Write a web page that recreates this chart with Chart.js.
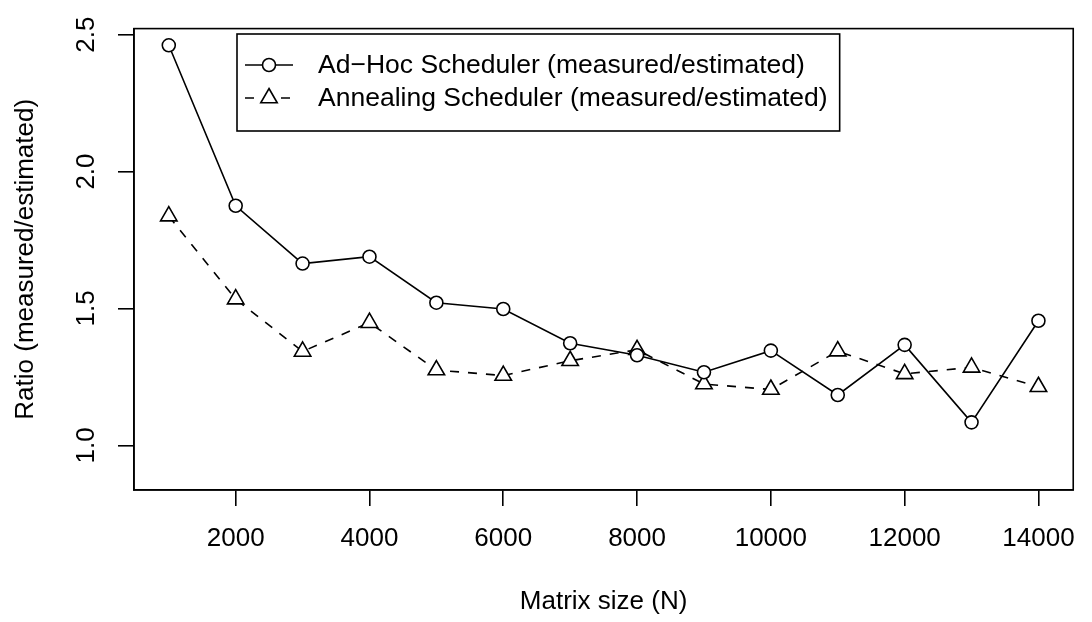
<!DOCTYPE html>
<html lang="en">

<head>
  <meta charset="utf-8">
  <title>Scheduler ratio</title>
  <script src="https://cdn.jsdelivr.net/npm/chart.js@4.4.1/dist/chart.umd.min.js"></script>
  <style>
    html, body { margin: 0; padding: 0; background: #fff; }
    canvas { display: block; }
  </style>
</head>

<body>
  <canvas id="chart-ratio" width="1092" height="622"></canvas>

  <script>
    // data
    var matrixSizes = [1000, 2000, 3000, 4000, 5000, 6000, 7000, 8000, 9000, 10000, 11000, 12000, 13000, 14000];
    var adHocRatio = [2.461, 1.875, 1.664, 1.689, 1.521, 1.498, 1.373, 1.329, 1.267, 1.346, 1.184, 1.367, 1.084, 1.455];
    var annealingRatio = [1.837, 1.534, 1.343, 1.448, 1.275, 1.255, 1.309, 1.349, 1.224, 1.204, 1.344, 1.261, 1.285, 1.214];
    var xTicks = [2000, 4000, 6000, 8000, 10000, 12000, 14000];
    var yTicks = [1.0, 1.5, 2.0, 2.5];
    var seriesNames = ["Ad\u2212Hoc Scheduler (measured/estimated)", "Annealing Scheduler (measured/estimated)"];

    var FONT = "'Liberation Sans', Arial, Helvetica, sans-serif";
    var LW = 1.6;

    function toPoints(xs, ys) {
      return xs.map(function (x, i) { return { x: x, y: ys[i] }; });
    }

    // box round the plot + R style legend
    var boxLegend = {
      id: 'boxLegend',
      afterDraw: function (chart) {
        var ctx = chart.ctx;
        var a = chart.chartArea;
        ctx.save();
        ctx.strokeStyle = '#000';
        ctx.lineWidth = LW;
        ctx.strokeRect(a.left, a.top, a.right - a.left, a.bottom - a.top);

        ctx.font = '26.5px ' + FONT;
        var w = Math.max(ctx.measureText(seriesNames[0]).width, ctx.measureText(seriesNames[1]).width);
        var lx = 237, ly = 34, textX = 318;
        var bw = textX + w + 12 - lx;
        ctx.fillStyle = '#fff';
        ctx.fillRect(lx, ly, bw, 97);
        ctx.strokeRect(lx, ly, bw, 97);

        ctx.textBaseline = 'middle';
        ctx.textAlign = 'left';
        var rows = [65, 98];
        chart.data.datasets.forEach(function (ds, i) {
          var y = rows[i];
          ctx.beginPath();
          ctx.setLineDash(ds.borderDash || []);
          ctx.moveTo(245, y);
          ctx.lineTo(293, y);
          ctx.stroke();
          ctx.setLineDash([]);
          ctx.fillStyle = '#fff';
          Chart.helpers.drawPoint(ctx, {
            pointStyle: ds.pointStyle,
            radius: ds.pointRadius,
            borderWidth: LW
          }, 269, y);
          ctx.fillStyle = '#000';
          ctx.fillText(ds.label, textX, y + 1);
        });
        ctx.restore();
      }
    };

    new Chart(document.getElementById('chart-ratio'), {
      type: 'line',
      data: {
        datasets: [{
          label: seriesNames[0],
          data: toPoints(matrixSizes, adHocRatio),
          borderColor: '#000',
          backgroundColor: '#fff',
          borderWidth: LW,
          pointStyle: 'circle',
          pointRadius: 6.5,
          pointBorderWidth: LW,
          pointBackgroundColor: '#fff',
          pointBorderColor: '#000',
          tension: 0
        }, {
          label: seriesNames[1],
          data: toPoints(matrixSizes, annealingRatio),
          borderColor: '#000',
          backgroundColor: '#fff',
          borderWidth: LW,
          borderDash: [9, 9],
          pointStyle: 'triangle',
          pointRadius: 9.5,
          pointBorderWidth: LW,
          pointBackgroundColor: '#fff',
          pointBorderColor: '#000',
          tension: 0
        }]
      },
      options: {
        responsive: false,
        animation: false,
        devicePixelRatio: 1,
        layout: { padding: { top: 17, right: 4, left: 0, bottom: 0 } },
        plugins: {
          legend: { display: false },
          tooltip: { enabled: false }
        },
        scales: {
          x: {
            type: 'linear',
            min: 480,
            max: 14520,
            afterBuildTicks: function (scale) {
              scale.ticks = xTicks.map(function (v) { return { value: v }; });
            },
            afterFit: function (scale) { scale.height = 132; },
            grid: { drawOnChartArea: false, drawTicks: true, tickLength: 16, color: '#000', lineWidth: LW },
            border: { display: true, color: '#000', width: LW },
            ticks: {
              autoSkip: false,
              maxRotation: 0,
              padding: 17,
              color: '#000',
              font: { family: FONT, size: 26 },
              callback: function (v) { return String(v); }
            },
            title: {
              display: true,
              text: 'Matrix size (N)',
              color: '#000',
              font: { family: FONT, size: 26 },
              padding: { top: 0, bottom: 5 }
            }
          },
          y: {
            type: 'linear',
            min: 0.837,
            max: 2.522,
            afterBuildTicks: function (scale) {
              scale.ticks = yTicks.map(function (v) { return { value: v }; });
            },
            afterFit: function (scale) { scale.width = 134; },
            grid: { drawOnChartArea: false, drawTicks: true, tickLength: 16, color: '#000', lineWidth: LW },
            border: { display: true, color: '#000', width: LW },
            ticks: {
              autoSkip: false,
              minRotation: 90,
              maxRotation: 90,
              crossAlign: 'center',
              padding: 13,
              color: '#000',
              font: { family: FONT, size: 26 },
              callback: function (v) { return v.toFixed(1); }
            },
            title: {
              display: true,
              text: 'Ratio (measured/estimated)',
              color: '#000',
              font: { family: FONT, size: 26 },
              padding: { top: 10, bottom: 0 }
            }
          }
        }
      },
      plugins: [boxLegend]
    });
  </script>
</body>

</html>
